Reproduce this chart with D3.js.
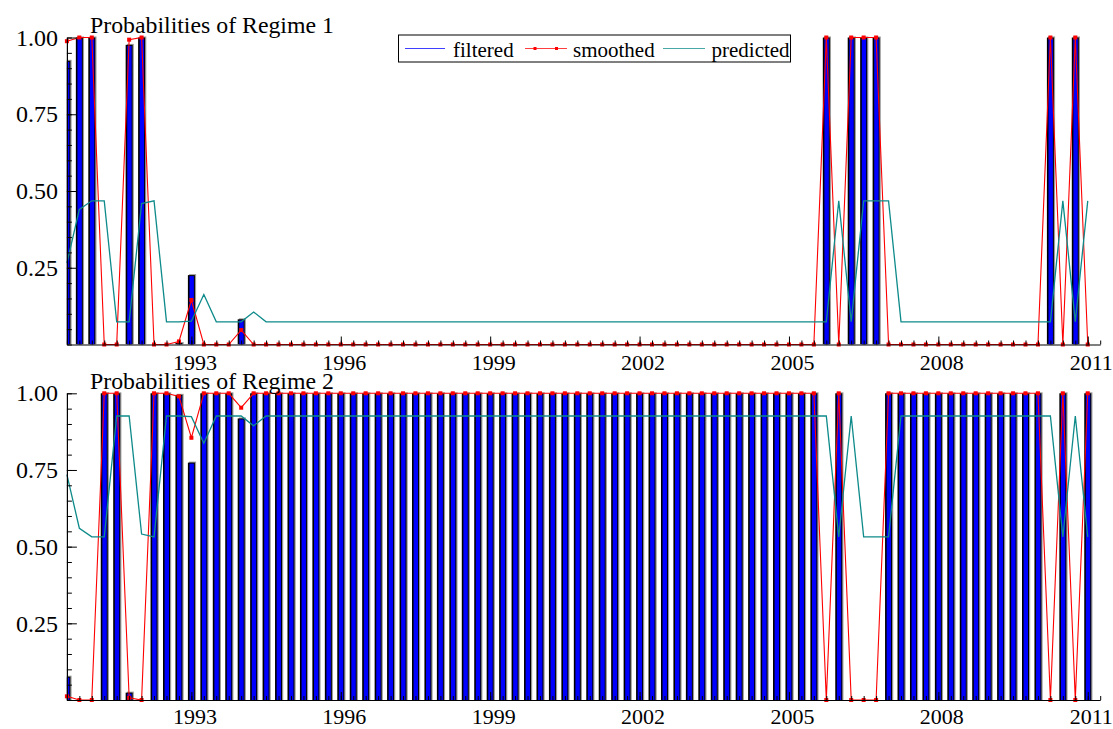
<!DOCTYPE html>
<html>
<head>
<meta charset="utf-8">
<script src="https://cdn.jsdelivr.net/npm/d3@7"></script>
<style>
  html, body { margin: 0; padding: 0; background: #fff; }
  svg { display: block; }
  svg text { font-family: "Liberation Serif", "Times New Roman", serif !important; fill: #000; }
</style>
</head>
<body>
<svg id="chart" width="1113" height="729"></svg>
<script>
// Quarterly sample 1990Q3 - 2011Q1 (83 observations)
const startYear = 1990;
const startQuarter = 3;
const nObs = 83;

const yearTickLabels = ["1993", "1996", "1999", "2002", "2005", "2008", "2011"];
const yTickValues = [0.25, 0.50, 0.75, 1.00];
const seriesNames = ["filtered", "smoothed", "predicted"];
const panelTitles = ["Probabilities of Regime 1", "Probabilities of Regime 2"];

// Regime 1 probabilities
const regime1Filtered = [
  0.924, 1, 1, 0, 0, 0.976, 1, 0, 0, 0.005,
  0.226, 0, 0, 0, 0.082, 0, 0, 0, 0, 0,
  0, 0, 0, 0, 0, 0, 0, 0, 0, 0,
  0, 0, 0, 0, 0, 0, 0, 0, 0, 0,
  0, 0, 0, 0, 0, 0, 0, 0, 0, 0,
  0, 0, 0, 0, 0, 0, 0, 0, 0, 0,
  0, 1, 0, 1, 1, 1, 0, 0, 0, 0,
  0, 0, 0, 0, 0, 0, 0, 0, 0, 1,
  0, 1, 0
];
const regime1Smoothed = [
  0.988, 1, 1, 0, 0, 0.993, 1, 0, 0, 0.01,
  0.145, 0, 0, 0, 0.047, 0, 0, 0, 0, 0,
  0, 0, 0, 0, 0, 0, 0, 0, 0, 0,
  0, 0, 0, 0, 0, 0, 0, 0, 0, 0,
  0, 0, 0, 0, 0, 0, 0, 0, 0, 0,
  0, 0, 0, 0, 0, 0, 0, 0, 0, 0,
  0, 1, 0, 1, 1, 1, 0, 0, 0, 0,
  0, 0, 0, 0, 0, 0, 0, 0, 0, 1,
  0, 1, 0
];
const regime1Predicted = [
  0.265, 0.44, 0.468, 0.468, 0.074, 0.074, 0.459, 0.468, 0.074, 0.074,
  0.076, 0.163, 0.074, 0.074, 0.074, 0.106, 0.074, 0.074, 0.074, 0.074,
  0.074, 0.074, 0.074, 0.074, 0.074, 0.074, 0.074, 0.074, 0.074, 0.074,
  0.074, 0.074, 0.074, 0.074, 0.074, 0.074, 0.074, 0.074, 0.074, 0.074,
  0.074, 0.074, 0.074, 0.074, 0.074, 0.074, 0.074, 0.074, 0.074, 0.074,
  0.074, 0.074, 0.074, 0.074, 0.074, 0.074, 0.074, 0.074, 0.074, 0.074,
  0.074, 0.074, 0.468, 0.074, 0.468, 0.468, 0.468, 0.074, 0.074, 0.074,
  0.074, 0.074, 0.074, 0.074, 0.074, 0.074, 0.074, 0.074, 0.074, 0.074,
  0.468, 0.074, 0.468
];

// Regime 2 probabilities
const regime2Filtered = [
  0.076, 0, 0, 1, 1, 0.024, 0, 1, 1, 0.995,
  0.774, 1, 1, 1, 0.918, 1, 1, 1, 1, 1,
  1, 1, 1, 1, 1, 1, 1, 1, 1, 1,
  1, 1, 1, 1, 1, 1, 1, 1, 1, 1,
  1, 1, 1, 1, 1, 1, 1, 1, 1, 1,
  1, 1, 1, 1, 1, 1, 1, 1, 1, 1,
  1, 0, 1, 0, 0, 0, 1, 1, 1, 1,
  1, 1, 1, 1, 1, 1, 1, 1, 1, 0,
  1, 0, 1
];
const regime2Smoothed = [
  0.012, 0, 0, 1, 1, 0.007, 0, 1, 1, 0.99,
  0.855, 1, 1, 1, 0.953, 1, 1, 1, 1, 1,
  1, 1, 1, 1, 1, 1, 1, 1, 1, 1,
  1, 1, 1, 1, 1, 1, 1, 1, 1, 1,
  1, 1, 1, 1, 1, 1, 1, 1, 1, 1,
  1, 1, 1, 1, 1, 1, 1, 1, 1, 1,
  1, 0, 1, 0, 0, 0, 1, 1, 1, 1,
  1, 1, 1, 1, 1, 1, 1, 1, 1, 0,
  1, 0, 1
];
const regime2Predicted = [
  0.735, 0.56, 0.532, 0.532, 0.926, 0.926, 0.541, 0.532, 0.926, 0.926,
  0.924, 0.837, 0.926, 0.926, 0.926, 0.894, 0.926, 0.926, 0.926, 0.926,
  0.926, 0.926, 0.926, 0.926, 0.926, 0.926, 0.926, 0.926, 0.926, 0.926,
  0.926, 0.926, 0.926, 0.926, 0.926, 0.926, 0.926, 0.926, 0.926, 0.926,
  0.926, 0.926, 0.926, 0.926, 0.926, 0.926, 0.926, 0.926, 0.926, 0.926,
  0.926, 0.926, 0.926, 0.926, 0.926, 0.926, 0.926, 0.926, 0.926, 0.926,
  0.926, 0.926, 0.532, 0.926, 0.532, 0.532, 0.532, 0.926, 0.926, 0.926,
  0.926, 0.926, 0.926, 0.926, 0.926, 0.926, 0.926, 0.926, 0.926, 0.926,
  0.532, 0.926, 0.532
];

const colors = { filtered: "#0000ff", smoothed: "#ff0000", predicted: "#0e8a8a" };

// observation index -> calendar period
const periods = d3.range(nObs).map(i => {
  const q = startQuarter - 1 + i;
  return { year: startYear + Math.floor(q / 4), quarter: (q % 4) + 1 };
});
const yearTickIdx = yearTickLabels.map(lbl =>
  periods.findIndex(p => p.year === +lbl && p.quarter === 1));

const svg = d3.select("#chart");
const x = d3.scaleLinear().domain([0, nObs]).range([66.9, 1100.2]);

const panels = [
  { title: panelTitles[0], top: 37.5, bottom: 344.5, labelPad: 10,
    filtered: regime1Filtered, smoothed: regime1Smoothed, predicted: regime1Predicted, legend: true },
  { title: panelTitles[1], top: 393.3, bottom: 700, labelPad: 8,
    filtered: regime2Filtered, smoothed: regime2Smoothed, predicted: regime2Predicted, legend: false }
];

panels.forEach((p, k) => {
  const y = d3.scaleLinear().domain([0, 1]).range([p.bottom, p.top]);
  const g = svg.append("g");

  const clipId = "clip" + k;
  svg.append("clipPath").attr("id", clipId).append("rect")
    .attr("x", x(0)).attr("y", p.top - 4)
    .attr("width", x(nObs) - x(0)).attr("height", p.bottom - p.top + 4);

  // filtered probabilities as bars
  const barW = 7;
  const bars = g.append("g").attr("clip-path", `url(#${clipId})`)
    .selectAll("g").data(p.filtered.map((v, i) => ({ v, i })).filter(d => d.v > 0.0005))
    .join("g");
  bars.append("rect")
    .attr("x", d => x(d.i) - barW / 2 + 1.2).attr("y", d => y(d.v) - 1)
    .attr("width", barW).attr("height", d => y(0) - y(d.v) + 1)
    .attr("fill", "#9a9a9a");
  bars.append("rect")
    .attr("x", d => x(d.i) - barW / 2).attr("y", d => y(d.v))
    .attr("width", barW).attr("height", d => y(0) - y(d.v))
    .attr("fill", "#000");
  bars.append("rect")
    .attr("x", d => x(d.i) - barW / 2 + 1.6).attr("y", d => Math.min(y(d.v) + 1, y(0)))
    .attr("width", barW - 2.6).attr("height", d => Math.max(y(0) - y(d.v) - 1, 0))
    .attr("fill", colors.filtered);

  // smoothed probabilities: line with square markers
  const line = d3.line().x((d, i) => x(i)).y(d => y(d));
  g.append("path").datum(p.smoothed)
    .attr("d", line).attr("fill", "none")
    .attr("stroke", colors.smoothed).attr("stroke-width", 1.1);
  g.append("g").selectAll("rect").data(p.smoothed).join("rect")
    .attr("x", (d, i) => x(i) - 2).attr("y", d => y(d) - 2)
    .attr("width", 4).attr("height", 4).attr("fill", colors.smoothed);

  // one-step predicted probabilities
  g.append("path").datum(p.predicted)
    .attr("d", line).attr("fill", "none")
    .attr("stroke", colors.predicted).attr("stroke-width", 1.3);

  // x axis: minor ticks each quarter, longer ticks at labelled years
  const xMinor = d3.axisBottom(x).tickValues(d3.range(0, nObs + 1))
    .tickSizeInner(-4).tickSizeOuter(0).tickFormat("");
  const xMinorG = g.append("g").attr("transform", `translate(0,${p.bottom})`).call(xMinor);
  xMinorG.select(".domain").attr("stroke", "#000").attr("stroke-width", 1.2);

  const xMajor = d3.axisBottom(x).tickValues(yearTickIdx)
    .tickSizeInner(-8).tickSizeOuter(0).tickPadding(p.labelPad)
    .tickFormat((d, i) => yearTickLabels[i]);
  const xMajorG = g.append("g").attr("transform", `translate(0,${p.bottom})`).call(xMajor);
  xMajorG.select(".domain").remove();
  xMajorG.selectAll("text").attr("font-size", 22).attr("dx", 3);

  // y axis: minor ticks every 0.05, major every 0.25
  const yMinor = d3.axisLeft(y).tickValues(d3.range(0, 21).map(v => v / 20))
    .tickSizeInner(-5).tickSizeOuter(0).tickFormat("");
  const yMinorG = g.append("g").attr("transform", `translate(${x(0)},0)`).call(yMinor);
  yMinorG.select(".domain").attr("stroke", "#000").attr("stroke-width", 1.2);

  const yMajor = d3.axisLeft(y).tickValues(yTickValues)
    .tickSizeInner(-10).tickSizeOuter(0).tickPadding(9).tickFormat(d3.format(".2f"));
  const yMajorG = g.append("g").attr("transform", `translate(${x(0)},0)`).call(yMajor);
  yMajorG.select(".domain").remove();
  yMajorG.selectAll("text").attr("font-size", 24);

  // panel title
  g.append("text").attr("x", 90).attr("y", p.top - 4.8)
    .attr("font-size", 23.8).text(p.title);

  // legend
  if (p.legend) {
    const lg = g.append("g");
    lg.append("rect").attr("x", 398.5).attr("y", 35).attr("width", 392).attr("height", 27)
      .attr("fill", "#fff").attr("stroke", "#000").attr("stroke-width", 1);
    const entries = [
      { name: seriesNames[0], x1: 405, x2: 445, tx: 453 },
      { name: seriesNames[1], x1: 525, x2: 567, tx: 573 },
      { name: seriesNames[2], x1: 663, x2: 705, tx: 711.5 }
    ];
    entries.forEach(e => {
      lg.append("line").attr("x1", e.x1).attr("x2", e.x2).attr("y1", 48.5).attr("y2", 48.5)
        .attr("stroke", colors[e.name]).attr("stroke-width", 1.1).attr("opacity", 0.75);
      if (e.name === "smoothed") {
        [535, 556.5].forEach(cx => lg.append("rect")
          .attr("x", cx - 1.5).attr("y", 47).attr("width", 3).attr("height", 3)
          .attr("fill", colors.smoothed));
      }
      lg.append("text").attr("x", e.tx).attr("y", 56.5).attr("font-size", 21).text(e.name);
    });
  }
});
</script>
</body>
</html>
